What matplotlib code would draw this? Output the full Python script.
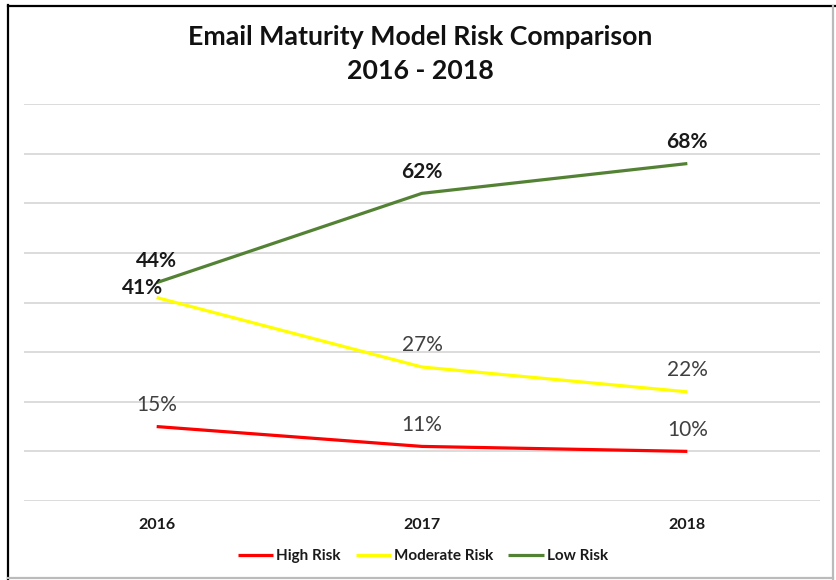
import matplotlib
matplotlib.use("Agg")
import matplotlib.pyplot as plt
from matplotlib.lines import Line2D

plt.rcParams["font.family"] = ["Lato", "DejaVu Sans"]

years = ["2016", "2017", "2018"]
high_risk = [15, 11, 10]
moderate_risk = [41, 27, 22]
low_risk = [44, 62, 68]

series = [
    ("High Risk", high_risk, "#FF0000", False),
    ("Moderate Risk", moderate_risk, "#FFFF00", False),
    ("Low Risk", low_risk, "#548235", True),
]

fig = plt.figure(figsize=(8.37, 5.8), dpi=100)
ax = fig.add_axes([24 / 837, 1 - 501 / 580, 796 / 837, 397 / 580])

x = list(range(len(years)))
for name, vals, col, _ in series:
    ax.plot(x, vals, color=col, linewidth=2.3, label=name, solid_capstyle="butt")

# data labels
for name, vals, col, bold in series:
    for i, v in enumerate(vals):
        dx, dy = 0, 15.5
        fw = "bold" if bold else "normal"
        tc = "#1a1a1a" if bold else "#404040"
        if name == "Moderate Risk" and i == 0:
            dx, dy = -10, 7
            fw, tc = "bold", "#1a1a1a"
        ax.annotate(f"{v}%", (i, v), xytext=(dx, dy), textcoords="offset points",
                    ha="center", va="center", fontsize=15, fontweight=fw, color=tc)

ax.set_xlim(-0.5, 2.5)
ax.set_ylim(0, 80)
ax.set_yticks(range(0, 81, 10))
ax.yaxis.grid(True, color="#D9D9D9", linewidth=1.3)
ax.set_axisbelow(True)
ax.tick_params(axis="y", left=False, labelleft=False)
ax.tick_params(axis="x", bottom=False, pad=9)
ax.set_xticks(x)
ax.set_xticklabels(years, fontsize=11.5, fontweight="bold", color="#1a1a1a")
for s in ax.spines.values():
    s.set_visible(False)

fig.text(0.502, 1 - 37 / 580, "Email Maturity Model Risk Comparison", ha="center", va="center",
         fontsize=19.3, fontweight="bold", color="#111111")
fig.text(0.502, 1 - 71 / 580, "2016 - 2018", ha="center", va="center",
         fontsize=19.3, fontweight="bold", color="#111111")

leg = fig.legend(loc="center", bbox_to_anchor=(0.505, 1 - 556 / 580), ncol=3, frameon=False,
                 handlelength=2.3, handletextpad=0.2, columnspacing=1.0,
                 prop={"weight": "bold", "size": 11})
for t in leg.get_texts():
    t.set_color("#1a1a1a")

# screenshot frame
fig.add_artist(Line2D([8 / 837, 8 / 837], [0, 1 - 5 / 580], transform=fig.transFigure, color="black", linewidth=1.6))
fig.add_artist(Line2D([8 / 837, 1], [1 - 6 / 580, 1 - 6 / 580], transform=fig.transFigure, color="black", linewidth=1.6))
fig.add_artist(Line2D([833 / 837, 833 / 837], [1 / 580, 1 - 6 / 580], transform=fig.transFigure, color="#BBBBBB", linewidth=1.6))
fig.add_artist(Line2D([8 / 837, 833 / 837], [2 / 580, 2 / 580], transform=fig.transFigure, color="#BBBBBB", linewidth=1.6))

fig.savefig("out.png", dpi=100)
